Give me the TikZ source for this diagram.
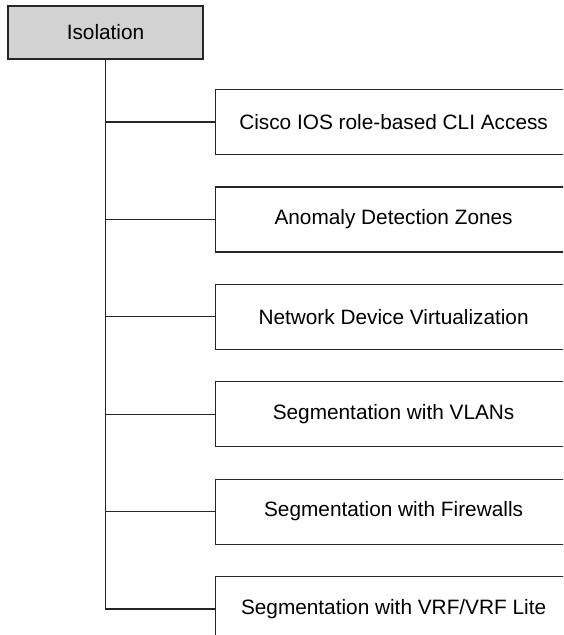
\documentclass[tikz,border=0pt]{standalone}
\usepackage{fontspec}
\setmainfont{Liberation Sans}
\usepackage{tikz}
\usetikzlibrary{arrows.meta,positioning}
\tikzset{
  root/.style={rectangle, draw=black!85, fill=gray!35, line width=1.2pt, minimum width=195pt, minimum height=53pt, font=\fontsize{20.8}{25}\selectfont},
  leaf/.style={rectangle, draw=black!85, fill=white, line width=1.2pt, minimum width=356pt, minimum height=65pt, font=\fontsize{20.8}{25}\selectfont},
  link/.style={draw=black!85, line width=1.2pt}
}
\begin{document}
\begin{tikzpicture}[x=1pt, y=1pt, node distance=97.4pt]
    \useasboundingbox (0,0) rectangle (563,-635);
    \clip (0,0) rectangle (563,-635);

    \node[root] (iso) at (105.5,-32.5) {Isolation};
    \node[leaf, anchor=west] (cli) at (215,-122) {Cisco IOS role-based CLI Access};
    \node[leaf, below of=cli] (zones) {Anomaly Detection Zones};
    \node[leaf, below of=zones] (virt) {Network Device Virtualization};
    \node[leaf, below of=virt] (vlan) {Segmentation with VLANs};
    \node[leaf, below of=vlan] (fw) {Segmentation with Firewalls};
    \node[leaf, below of=fw] (vrf) {Segmentation with VRF/VRF Lite};

    \draw[link] (iso.south) |- (cli.west);
    \draw[link] (iso.south) |- (zones.west);
    \draw[link] (iso.south) |- (virt.west);
    \draw[link] (iso.south) |- (vlan.west);
    \draw[link] (iso.south) |- (fw.west);
    \draw[link] (iso.south) |- (vrf.west);
  \end{tikzpicture}
\end{document}
